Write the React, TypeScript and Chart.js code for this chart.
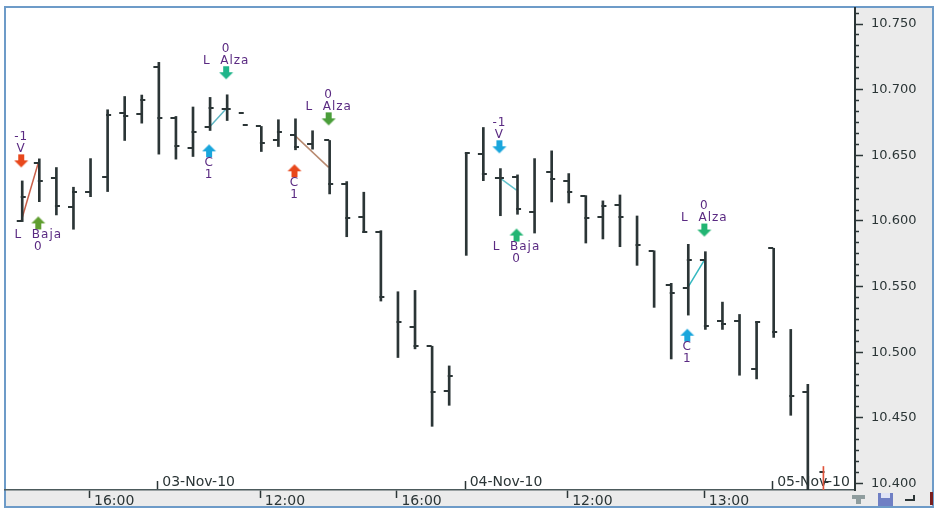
import React, { useEffect, useRef } from "react";
import { Chart, registerables } from "chart.js";

Chart.register(...registerables);

const highs = [10.6305,10.6473,10.6407,10.6257,10.6475,10.6847,10.6948,10.6959,10.7208,10.6796,10.6868,10.6941,10.6961,null,10.672,10.6771,10.6778,10.6687,10.6613,10.63,10.6219,10.5926,10.5461,10.5471,10.5046,10.4896,10.6517,10.6712,10.6399,10.6351,10.6475,10.6534,10.6361,10.6193,10.6153,10.6198,10.6038,10.5773,10.5525,10.5822,10.5766,10.5382,10.5288,10.5229,10.5792,10.5174,10.4756,null];
const lows = [10.5995,10.6147,10.6046,10.5937,10.6185,10.6224,10.6613,10.6745,10.6509,10.6471,10.6491,10.6689,10.6765,null,10.6529,10.6567,10.6542,10.6547,10.6206,10.588,10.5911,10.539,10.496,10.5026,10.4436,10.4596,10.5738,10.6307,10.604,10.6051,10.5908,10.6145,10.6137,10.5832,10.5863,10.5804,10.5662,10.5342,10.4949,10.5283,10.5174,10.5174,10.4825,10.4797,10.5113,10.452,10.38,null];
const opens = [10.6,10.6443,10.6326,10.6105,10.6219,10.6333,10.6826,10.6816,10.717,10.6784,10.6555,10.6712,10.6855,10.6826,10.6725,10.6618,10.6654,10.659,10.6613,10.6285,10.6031,10.5918,null,10.5191,10.5044,10.4705,null,10.6513,10.633,10.6333,10.6066,10.6372,10.6303,10.6191,10.6028,10.6122,null,10.5773,10.5509,10.5486,10.5702,10.5239,10.5239,10.4869,10.5792,null,10.4698,10.4087];
const closes = [10.6183,10.6305,10.6114,10.6219,null,10.6809,10.6796,10.6923,10.6784,10.6572,10.6681,10.6864,10.6855,10.6732,10.6597,10.6674,10.6567,null,10.6285,10.6021,10.5914,10.542,10.5229,10.5044,10.4698,10.482,10.6517,10.6361,10.633,10.6094,null,10.6323,10.6219,10.6021,10.6114,10.6028,10.5817,null,10.5448,10.5702,10.5199,10.5219,null,10.5229,10.5158,10.4667,null,10.4011];

const lastBarIndex = [47];
const lastBarRange = [10.38, 10.413];

const trendFromIndex = [0, 11, 16, 28, 39];
const trendFromPrice = [10.6, 10.6712, 10.6654, 10.633, 10.5486];
const trendToIndex = [1, 12, 18, 29, 40];
const trendToPrice = [10.6443, 10.6855, 10.6408, 10.6235, 10.5702];
const trendColors = ["#c9604a", "#5fb6c4", "#b88a70", "#62c2cc", "#35b8c0"];

const signalIndex = [0, 1, 12, 11, 16, 18, 28, 29, 40, 39];
const signalPrice = [10.6458, 10.5985, 10.7129, 10.6534, 10.6382, 10.6778, 10.6565, 10.5893, 10.5931, 10.513];
const signalUp = [false, true, false, true, true, false, false, true, false, true];
const signalColors = ["#e8481c", "#5f9e30", "#1fb58a", "#1aa6dc", "#e8481c", "#4a9e3a", "#1aa6dc", "#22b573", "#22b573", "#1aa6dc"];
const signalLines = [["V", "-1"], ["L  Baja", "0"], ["L  Alza", "0"], ["C", "1"], ["C", "1"], ["L  Alza", "0"], ["V", "-1"], ["L  Baja", "0"], ["L  Alza", "0"], ["C", "1"]];

const timeTickIndex = [4, 14, 22, 32, 40];
const timeTickLabels = ["16:00", "12:00", "16:00", "12:00", "13:00"];
const dateTickIndex = [8, 26, 44];
const dateTickLabels = ["03-Nov-10", "04-Nov-10", "05-Nov-10"];
const priceTicks = [10.4, 10.45, 10.5, 10.55, 10.6, 10.65, 10.7, 10.75];
const minorPriceSteps = 6;

const INK = "#2b3536";
const FONT = "'DejaVu Sans'";
const xMin = -0.95;
const xMax = 48.82;
const yMin = 10.3951;
const yMax = 10.7622;

function tickImage(side: "left" | "right") {
  const c = document.createElement("canvas");
  c.width = 11;
  c.height = 2;
  const g = c.getContext("2d")!;
  g.fillStyle = INK;
  if (side === "left") g.fillRect(1, 0, 5, 2);
  else g.fillRect(5, 0, 5, 2);
  return c;
}

function arrowImage(color: string, up: boolean) {
  const c = document.createElement("canvas");
  c.width = 16;
  c.height = 15;
  const g = c.getContext("2d")!;
  if (!up) {
    g.translate(0, 15);
    g.scale(1, -1);
  }
  g.fillStyle = color;
  g.beginPath();
  g.moveTo(8, 1);
  g.lineTo(15, 8);
  g.lineTo(11, 8);
  g.lineTo(11, 14);
  g.lineTo(5, 14);
  g.lineTo(5, 8);
  g.lineTo(1, 8);
  g.closePath();
  g.fill();
  return c;
}

const framePlugin = {
  id: "frame",
  beforeDraw(chart: any) {
    const { ctx, chartArea: a, width, height } = chart;
    ctx.save();
    ctx.fillStyle = "#ffffff";
    ctx.fillRect(0, 0, width, height);
    ctx.fillStyle = "#ebebeb";
    ctx.fillRect(a.right, 7, 933 - a.right, 500);
    ctx.fillRect(5, a.bottom, 928, 17);
    ctx.strokeStyle = "#6d9bc8";
    ctx.lineWidth = 2;
    ctx.strokeRect(5, 7, 928, 500);
    ctx.fillStyle = "#8f9d9e";
    ctx.fillRect(852, 495, 13, 4);
    ctx.fillRect(856, 499, 5, 5);
    ctx.fillStyle = "#6f7fc4";
    ctx.fillRect(878, 493, 15, 13);
    ctx.fillStyle = "#dfe3f5";
    ctx.fillRect(881, 493, 9, 5);
    ctx.fillStyle = INK;
    ctx.fillRect(905, 499, 10, 2);
    ctx.fillRect(913, 495, 2, 6);
    ctx.fillStyle = "#7a1f1f";
    ctx.fillRect(930, 492, 3, 13);
    ctx.restore();
  },
};

const signalTextPlugin = {
  id: "signalText",
  afterDatasetsDraw(chart: any) {
    const { ctx, scales } = chart;
    ctx.save();
    ctx.font = `12px ${FONT}`;
    (ctx as any).letterSpacing = "1px";
    ctx.fillStyle = "#5a2a82";
    ctx.textAlign = "center";
    ctx.textBaseline = "middle";
    signalIndex.forEach((idx, k) => {
      const x = scales.x.getPixelForValue(idx);
      const y = scales.y.getPixelForValue(signalPrice[k]);
      signalLines[k].forEach((line, n) => {
        const off = (n + 1) * 12 * (signalUp[k] ? 1 : -1);
        ctx.fillText(line, x, y + off);
      });
    });
    ctx.restore();
  },
};

function noPadding(s: any) {
  s.paddingTop = 0;
  s.paddingBottom = 0;
  s.paddingLeft = 0;
  s.paddingRight = 0;
}

export default function App() {
  const ref = useRef<HTMLCanvasElement | null>(null);

  useEffect(() => {
    document.body.style.margin = "0";
    const canvas = ref.current!;
    const bars = highs.map((h, i) => ({ x: i, y: h === null ? null : [lows[i], h] }));
    const trends = trendFromIndex.map((from, k) => ({
      type: "line",
      data: [
        { x: from, y: trendFromPrice[k] },
        { x: trendToIndex[k], y: trendToPrice[k] },
      ],
      borderColor: trendColors[k],
      borderWidth: 1.5,
      pointRadius: 0,
      order: 3,
    }));

    const chart = new Chart(canvas, {
      type: "bar",
      data: {
        datasets: [
          {
            type: "bar",
            data: bars,
            backgroundColor: INK,
            barThickness: 2,
            order: 2,
          },
          {
            type: "bar",
            data: lastBarIndex.map((i) => ({ x: i, y: lastBarRange })),
            backgroundColor: "#e0533a",
            barThickness: 1,
            order: 0,
          },
          {
            type: "scatter",
            data: opens.map((v, i) => ({ x: i, y: v })),
            pointStyle: tickImage("left"),
            order: 1,
          },
          {
            type: "scatter",
            data: closes.map((v, i) => ({ x: i, y: v })),
            pointStyle: tickImage("right"),
            order: 1,
          },
          ...trends,
          {
            type: "scatter",
            data: signalIndex.map((i, k) => ({ x: i, y: signalPrice[k] })),
            pointStyle: signalIndex.map((_, k) => arrowImage(signalColors[k], signalUp[k])),
            order: 0,
          },
        ] as any,
      },
      options: {
        responsive: false,
        animation: false,
        events: [],
        layout: { padding: { left: 5, top: 8, right: 3, bottom: 4 } },
        plugins: { legend: { display: false }, tooltip: { enabled: false } },
        scales: {
          x: {
            type: "linear",
            position: "bottom",
            min: xMin,
            max: xMax,
            offset: false,
            afterBuildTicks(s: any) {
              s.ticks = timeTickIndex.map((value) => ({ value }));
            },
            afterFit(s: any) {
              s.height = 16;
              noPadding(s);
            },
            ticks: {
              autoSkip: false,
              maxRotation: 0,
              align: "start",
              padding: -5,
              color: INK,
              font: { family: FONT, size: 14 },
              callback: (v: any) => " " + timeTickLabels[timeTickIndex.indexOf(v)],
            },
            grid: { offset: false, drawOnChartArea: false, tickLength: 8, tickColor: INK, tickWidth: 1.5 },
            border: { color: "#4c5a5c", width: 1.5 },
          },
          xDate: {
            type: "linear",
            axis: "x",
            position: { y: yMin },
            min: xMin,
            max: xMax,
            offset: false,
            afterBuildTicks(s: any) {
              s.ticks = dateTickIndex.map((value) => ({ value }));
            },
            afterFit: noPadding,
            ticks: {
              autoSkip: false,
              maxRotation: 0,
              align: "start",
              padding: -7,
              color: INK,
              font: { family: FONT, size: 14 },
              callback: (v: any) => " " + dateTickLabels[dateTickIndex.indexOf(v)],
            },
            grid: { offset: false, drawOnChartArea: false, tickLength: -9, tickColor: INK, tickWidth: 1.5 },
            border: { display: false },
          },
          y: {
            type: "linear",
            position: "right",
            min: yMin,
            max: yMax,
            afterBuildTicks(s: any) {
              s.ticks = priceTicks.map((value) => ({ value }));
            },
            afterFit(s: any) {
              s.width = 77;
              noPadding(s);
            },
            ticks: {
              autoSkip: false,
              padding: 8,
              color: INK,
              font: { family: FONT, size: 13 },
              callback: (v: any) => Number(v).toFixed(3),
            },
            grid: { drawOnChartArea: false, tickLength: 8, tickColor: INK, tickWidth: 1.5 },
            border: { color: INK, width: 2 },
          },
          yMinor: {
            type: "linear",
            axis: "y",
            position: { x: xMax },
            min: yMin,
            max: yMax,
            afterBuildTicks(s: any) {
              const out: any[] = [];
              priceTicks.forEach((p) => {
                for (let k = 1; k < minorPriceSteps; k++) {
                  out.push({ value: p + (k * (priceTicks[1] - priceTicks[0])) / minorPriceSteps });
                }
              });
              s.ticks = out.filter((t) => t.value <= yMax);
            },
            afterFit: noPadding,
            ticks: { display: false },
            grid: { drawOnChartArea: false, tickLength: -4, tickColor: INK, tickWidth: 1.5 },
            border: { display: false },
          },
        },
      } as any,
      plugins: [framePlugin, signalTextPlugin],
    });

    return () => chart.destroy();
  }, []);

  return <canvas ref={ref} width={935} height={510} style={{ display: "block", filter: "blur(0.4px)" }} />;
}
